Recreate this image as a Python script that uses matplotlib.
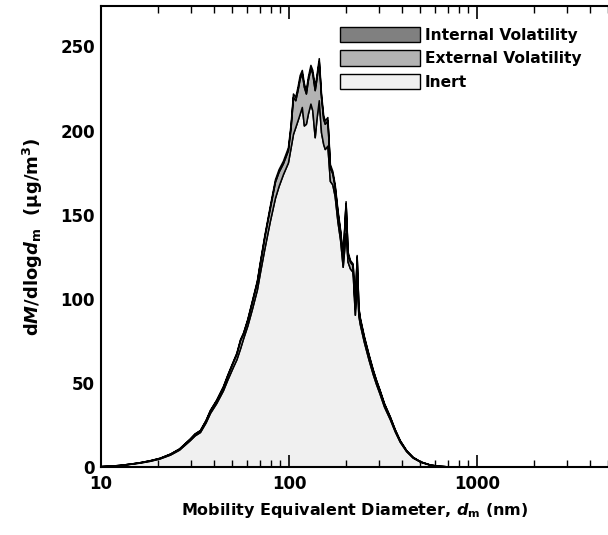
import numpy as np
import matplotlib
matplotlib.use('Agg')
import matplotlib.pyplot as plt
from matplotlib.patches import Patch
from matplotlib.ticker import LogLocator, NullFormatter, FixedLocator

plt.rcParams['font.family'] = ['DejaVu Sans']
plt.rcParams['font.weight'] = 'bold'
plt.rcParams['axes.labelweight'] = 'bold'
plt.rcParams['mathtext.fontset'] = 'custom'
plt.rcParams['mathtext.rm'] = 'DejaVu Sans:bold'
plt.rcParams['mathtext.it'] = 'DejaVu Sans:italic:bold'

# mobility diameter (nm)
dm = [10, 11.2, 12.5, 14.3, 16, 18.2, 20.5, 23.3, 26, 29.7,
      31.5, 33.6, 36, 38, 41, 44.5, 47, 50.3, 52.5, 54.9,
      57, 60, 63.5, 67.5, 70, 74, 79, 84.2, 88, 92.8,
      98.7, 102, 105, 108, 111, 114, 117, 120, 123, 126,
      130, 133, 137, 140, 144, 148, 152, 155, 160, 165,
      170, 175, 181, 187, 193, 200, 205, 211, 218, 224,
      229, 234, 238, 250, 265, 279, 290, 303, 320, 344,
      365, 388, 420, 455, 500, 564, 630, 694, 800, 1000,
      1500, 2500]

# dM/dlogdm (ug/m3) for each component
inert = [0.5, 0.8, 1.1, 1.9, 2.6, 3.7, 5.1, 7.4, 10.3, 16,
         18.8, 20.8, 26.5, 32.2, 38, 45.5, 52, 59.5, 64, 70.5,
         76.5, 84, 94, 105.5, 115.5, 130, 146, 160, 167, 174,
         181, 190, 198, 202, 206, 210, 214, 203, 204, 210,
         216, 212, 196, 207, 218, 199, 192, 189, 191, 170,
         168, 161, 146, 135, 119, 139, 122, 118, 116, 90.5,
         112, 90, 85, 74.5, 63.8, 55.2, 49.5, 43.7, 36, 28.4,
         21.3, 15.1, 9.4, 5.6, 3.1, 1.3, 0.65, 0.37, 0.19, 0.1,
         0.05, 0.02]
external = [0, 0, 0.1, 0.1, 0.2, 0.3, 0.3, 0.5, 0.6, 0.8,
            1.0, 1.0, 1.2, 1.5, 1.7, 2.1, 2.5, 3.0, 3.4, 4.9,
            3.0, 3.4, 4.3, 4.7, 5.6, 7.0, 7.8, 9.6, 8.5, 6.5,
            7.3, 12, 22, 16, 18, 21, 20, 23, 18, 20,
            21, 22, 28, 24, 23, 21, 15, 15, 15, 8,
            6.5, 5.5, 5.5, 4.8, 4.8, 17.8, 4.8, 4, 4, 3.5,
            13, 4, 3.2, 2.8, 2.6, 2.3, 2.1, 1.9, 1.7, 1.3,
            1.0, 0.75, 0.5, 0.33, 0.17, 0.08, 0.04, 0.02, 0.01, 0,
            0, 0]
internal = [0, 0, 0, 0, 0, 0, 0.1, 0.1, 0.1, 0.2,
            0.2, 0.2, 0.3, 0.3, 0.3, 0.4, 0.5, 0.5, 0.6, 0.6,
            0.5, 0.6, 0.7, 0.8, 0.9, 1.0, 1.2, 1.4, 1.5, 1.5,
            1.7, 2, 2, 2, 2, 2, 2, 2, 2, 2,
            2, 2, 2, 2, 2, 2, 2, 2, 2, 2,
            1.5, 1.5, 1.5, 1.2, 1.2, 1.2, 1.2, 1, 1, 1,
            1, 1, 0.8, 0.7, 0.6, 0.5, 0.4, 0.4, 0.3, 0.3,
            0.2, 0.15, 0.1, 0.07, 0.03, 0.02, 0.01, 0.01, 0, 0,
            0, 0]

labels = ['Inert', 'External Volatility', 'Internal Volatility']
colors = ['#f0f0f0', '#b3b3b3', '#808080']

fig = plt.figure(figsize=(6.08, 5.35), dpi=100)
ax = fig.add_axes([101 / 608, 68 / 535, 507.4 / 608, 461 / 535])

ax.stackplot(dm, inert, external, internal, colors=colors,
             edgecolor='k', linewidth=1.1)

ax.set_xscale('log')
ax.set_xlim(10, 5000)
ax.set_ylim(0, 274)

ax.xaxis.set_major_locator(FixedLocator([10, 100, 1000]))
ax.set_xticklabels(['10', '100', '1000'])
ax.xaxis.set_minor_locator(LogLocator(base=10, subs=np.arange(2, 10)))
ax.xaxis.set_minor_formatter(NullFormatter())
ax.set_yticks([0, 50, 100, 150, 200, 250])

ax.tick_params(axis='x', which='major', direction='in', length=9, width=1.2,
               top=True, labelsize=12, pad=5.5)
ax.tick_params(axis='x', which='minor', direction='in', length=5, width=1.0,
               top=True)
ax.tick_params(axis='y', length=0, labelsize=12, pad=4.5)

for side in ['left', 'bottom', 'top']:
    ax.spines[side].set_linewidth(1.5)
ax.spines['right'].set_visible(False)

ax.set_xlabel(r'Mobility Equivalent Diameter, $\mathit{d}_{\rm m}$ (nm)',
              fontsize=11.5, labelpad=6)
ax.set_ylabel(r'd$\mathit{M}$/dlog$\mathit{d}_{\rm m}$  (μg/m$^3$)',
              fontsize=13, labelpad=11)

handles = [Patch(facecolor=c, edgecolor='k', linewidth=1.0) for c in colors]
fig.legend(handles[::-1], labels[::-1], loc='upper left',
           bbox_to_anchor=(340 / 608, 1 - 27 / 535), frameon=False,
           fontsize=11.2, handlelength=5.15, handleheight=1.15,
           labelspacing=0.48, handletextpad=0.32, borderpad=0,
           borderaxespad=0)

fig.savefig('out.png', dpi=100)
